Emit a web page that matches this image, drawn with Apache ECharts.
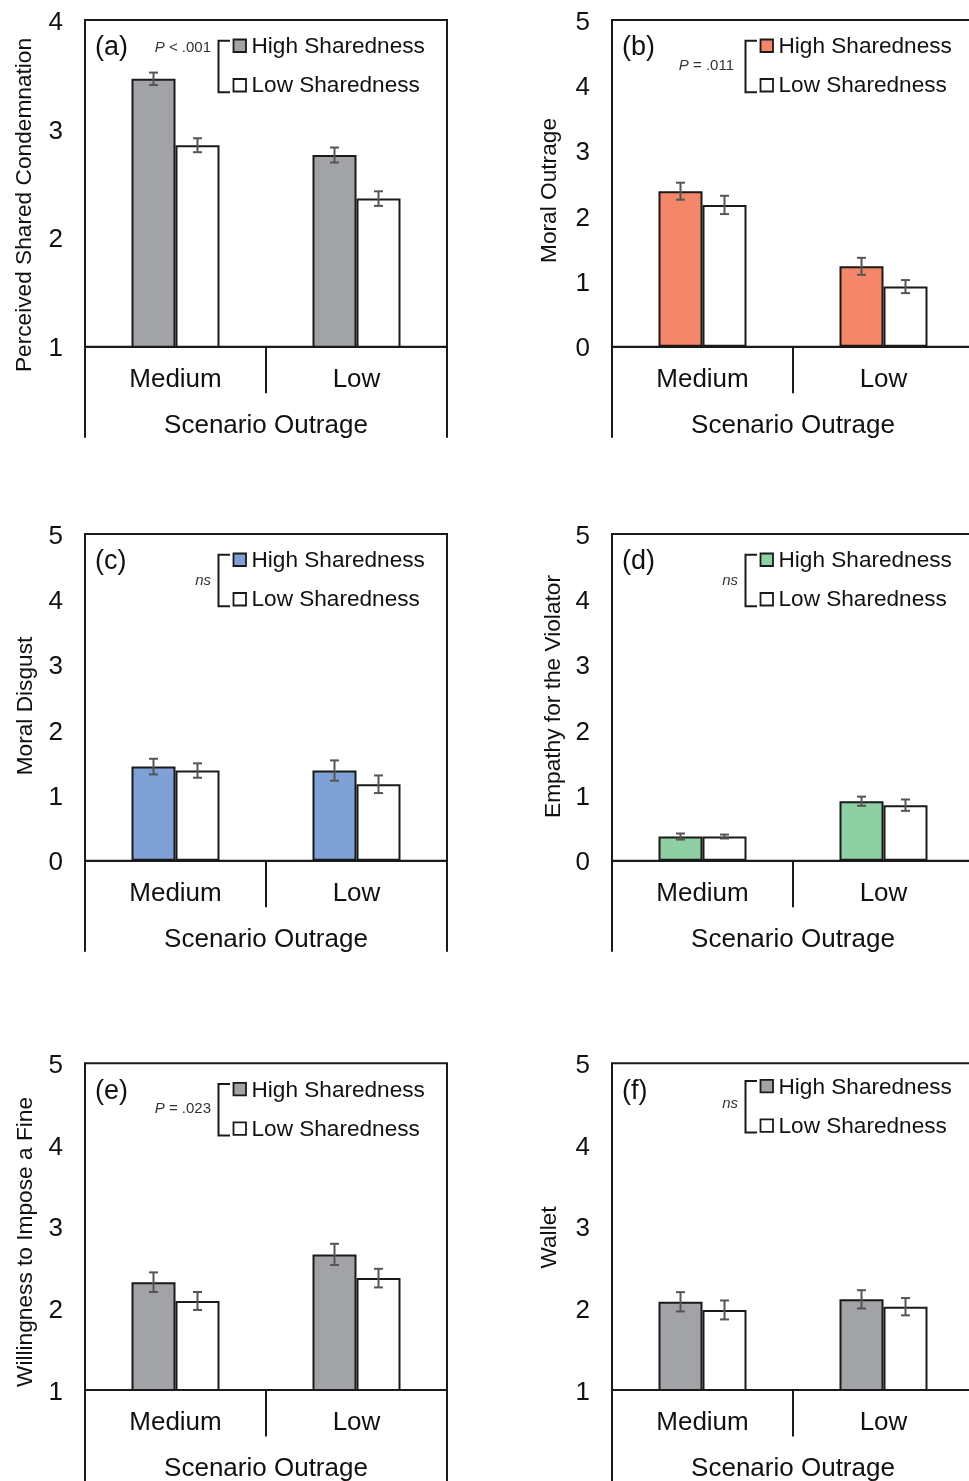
<!DOCTYPE html>
<html><head><meta charset="utf-8">
<script src="https://cdn.jsdelivr.net/npm/echarts@6/dist/echarts.min.js"></script>
<style>html,body{margin:0;padding:0;background:#fff;overflow:hidden}#c{width:969px;height:1481px}</style>
</head><body><div id="c"></div>
<script>
// ---------- DATA ----------
const categories = ['Medium', 'Low'];
const groupNames = ['High Sharedness', 'Low Sharedness'];
const outerAxisTitle = ['Scenario Outrage'];
const panelLabels = ['(a)', '(b)', '(c)', '(d)', '(e)', '(f)'];
const yAxisNames = ['Perceived Shared Condemnation', 'Moral Outrage', 'Moral Disgust',
  'Empathy for the Violator', 'Willingness to Impose a Fine', 'Wallet'];
const pTexts = ['P < .001', 'P = .011', 'ns', 'ns', 'P = .023', 'ns'];
const yMins = [1, 0, 0, 0, 1, 1];
const yMaxs = [4, 5, 5, 5, 5, 5];

const condemnationHigh = [3.46, 2.76];
const condemnationLow = [2.85, 2.36];
const condemnationHighErr = [0.057, 0.069];
const condemnationLowErr = [0.064, 0.067];

const outrageHigh = [2.38, 1.23];
const outrageLow = [2.17, 0.92];
const outrageHighErr = [0.13, 0.13];
const outrageLowErr = [0.14, 0.10];

const disgustHigh = [1.44, 1.38];
const disgustLow = [1.38, 1.17];
const disgustHighErr = [0.12, 0.155];
const disgustLowErr = [0.11, 0.135];

const empathyHigh = [0.37, 0.91];
const empathyLow = [0.37, 0.85];
const empathyHighErr = [0.046, 0.07];
const empathyLowErr = [0.03, 0.087];

const fineHigh = [2.32, 2.66];
const fineLow = [2.09, 2.37];
const fineHighErr = [0.12, 0.13];
const fineLowErr = [0.11, 0.114];

const walletHigh = [2.08, 2.11];
const walletLow = [1.98, 2.02];
const walletHighErr = [0.118, 0.112];
const walletLowErr = [0.116, 0.106];

const highSets = [condemnationHigh, outrageHigh, disgustHigh, empathyHigh, fineHigh, walletHigh];
const lowSets = [condemnationLow, outrageLow, disgustLow, empathyLow, fineLow, walletLow];
const highErrSets = [condemnationHighErr, outrageHighErr, disgustHighErr, empathyHighErr, fineHighErr, walletHighErr];
const lowErrSets = [condemnationLowErr, outrageLowErr, disgustLowErr, empathyLowErr, fineLowErr, walletLowErr];

// ---------- LAYOUT / STYLE ----------
const FONT = '"Liberation Sans", Arial, Helvetica, sans-serif';
const INK = '#111';
const highColors = ['#a2a3a6', '#f4866a', '#7fa1d5', '#8ecfa4', '#a2a3a6', '#a2a3a6'];
const layout = [
  { L: 85,  T: 20,    nameX: 25,    nameY: 205,   dy: 0,  pY: 28,   pR: 126 },
  { L: 612, T: 20,    nameX: 549.5, nameY: 190.5, dy: 0,  pY: 45.5, pR: 122 },
  { L: 85,  T: 534,   nameX: 26,    nameY: 706,   dy: 0,  pY: 46.5, pR: 126 },
  { L: 612, T: 534,   nameX: 553.5, nameY: 696.5, dy: 0,  pY: 46.5, pR: 126 },
  { L: 85,  T: 1063.3, nameX: 26,   nameY: 1242,  dy: 0,  pY: 45.5, pR: 126 },
  { L: 612, T: 1063.3, nameX: 549.5, nameY: 1237.5, dy: -3, pY: 43.5, pR: 126 }
];
const PW = 362, PH = 326.7, EXT = 91, SEP = 46.5, BAR_W = 44;

const grids = [], xAxes = [], yAxes = [], series = [], graphics = [];

function errRenderer(sign) {
  return function (params, api) {
    const c = api.value(0), m = api.value(1), e = api.value(2);
    const top = api.coord([c, m + e]);
    const bot = api.coord([c, m - e]);
    const x = top[0] + sign * BAR_W / 2;
    const st = { stroke: '#555', lineWidth: 2 };
    return {
      type: 'group',
      children: [
        { type: 'line', shape: { x1: x, y1: top[1], x2: x, y2: bot[1] }, style: st },
        { type: 'line', shape: { x1: x - 4.5, y1: top[1], x2: x + 4.5, y2: top[1] }, style: st },
        { type: 'line', shape: { x1: x - 4.5, y1: bot[1], x2: x + 4.5, y2: bot[1] }, style: st }
      ]
    };
  };
}

layout.forEach((p, i) => {
  const g = i * 2;
  grids.push({ left: p.L, top: p.T, width: PW, height: PH, show: true,
    borderColor: '#1a1a1a', borderWidth: 2, backgroundColor: 'transparent',
    containLabel: false, outerBoundsMode: 'none' });
  grids.push({ left: p.L, top: p.T, width: PW, height: PH, show: false,
    containLabel: false, outerBoundsMode: 'none' });

  xAxes.push({
    type: 'category', gridIndex: g, data: categories, position: 'bottom',
    axisLine: { show: true, lineStyle: { color: '#1a1a1a', width: 2 } },
    axisTick: { show: true, length: SEP, lineStyle: { color: '#1a1a1a', width: 2 } },
    axisLabel: { fontSize: 26, fontFamily: FONT, color: INK, margin: 20 },
    splitLine: { show: false }
  });
  xAxes.push({
    type: 'category', gridIndex: g + 1, data: outerAxisTitle, position: 'bottom',
    axisLine: { show: false },
    axisTick: { show: true, length: EXT, lineStyle: { color: '#1a1a1a', width: 2 } },
    axisLabel: { fontSize: 26, fontFamily: FONT, color: INK, margin: 66 },
    splitLine: { show: false }
  });
  yAxes.push({
    type: 'value', gridIndex: g, min: yMins[i], max: yMaxs[i], interval: 1,
    axisLine: { show: false }, axisTick: { show: false }, splitLine: { show: false },
    axisLabel: { fontSize: 26, fontFamily: FONT, color: INK, margin: 22,
      formatter: '{v|{value}}',
      rich: { v: { fontSize: 26, fontFamily: FONT, color: INK, padding: [5, 0, 0, 0] } } }
  });
  yAxes.push({ type: 'value', gridIndex: g + 1, min: 0, max: 1, show: false });

  const barStyle = (fill) => ({ color: fill, borderColor: '#1a1a1a', borderWidth: 2 });
  series.push({
    type: 'bar', name: groupNames[0], xAxisIndex: g, yAxisIndex: g,
    data: highSets[i], barWidth: BAR_W, barGap: '0%', itemStyle: barStyle(highColors[i]),
    silent: true, animation: false
  });
  series.push({
    type: 'bar', name: groupNames[1], xAxisIndex: g, yAxisIndex: g,
    data: lowSets[i], barWidth: BAR_W, barGap: '0%', itemStyle: barStyle('#ffffff'),
    silent: true, animation: false
  });
  series.push({
    type: 'custom', xAxisIndex: g, yAxisIndex: g, z: 10, silent: true, animation: false,
    renderItem: errRenderer(-1), encode: { x: 0, y: 1 },
    data: categories.map((c, k) => [k, highSets[i][k], highErrSets[i][k]])
  });
  series.push({
    type: 'custom', xAxisIndex: g, yAxisIndex: g, z: 10, silent: true, animation: false,
    renderItem: errRenderer(1), encode: { x: 0, y: 1 },
    data: categories.map((c, k) => [k, lowSets[i][k], lowErrSets[i][k]])
  });

  // panel label
  graphics.push({ type: 'text', x: p.L + 10, y: p.T + 28, z: 20,
    style: { text: panelLabels[i], fontSize: 27, fontFamily: FONT, fill: INK, align: 'left', verticalAlign: 'middle' } });
  // y axis name
  graphics.push({ type: 'text', x: p.nameX, y: p.nameY, rotation: Math.PI / 2, z: 20,
    style: { text: yAxisNames[i], fontSize: 22.7, fontFamily: FONT, fill: INK, align: 'center', verticalAlign: 'middle' } });
  // legend
  const dy = p.dy;
  graphics.push({ type: 'rect', z: 20, shape: { x: p.L + 148.5, y: p.T + 19.5 + dy, width: 12.5, height: 12.5 },
    style: { fill: highColors[i], stroke: '#1a1a1a', lineWidth: 1.8 } });
  graphics.push({ type: 'rect', z: 20, shape: { x: p.L + 148.5, y: p.T + 59 + dy, width: 12.5, height: 12.5 },
    style: { fill: '#ffffff', stroke: '#1a1a1a', lineWidth: 1.8 } });
  graphics.push({ type: 'text', x: p.L + 166.5, y: p.T + 27 + dy, z: 20,
    style: { text: groupNames[0], fontSize: 22.6, fontFamily: FONT, fill: INK, align: 'left', verticalAlign: 'middle' } });
  graphics.push({ type: 'text', x: p.L + 166.5, y: p.T + 66 + dy, z: 20,
    style: { text: groupNames[1], fontSize: 22.6, fontFamily: FONT, fill: INK, align: 'left', verticalAlign: 'middle' } });
  graphics.push({ type: 'polyline', z: 20,
    shape: { points: [[p.L + 145, p.T + 20.7 + dy], [p.L + 133.5, p.T + 20.7 + dy], [p.L + 133.5, p.T + 72.3 + dy], [p.L + 145, p.T + 72.3 + dy]] },
    style: { stroke: '#1a1a1a', lineWidth: 2, fill: null } });
  // significance
  const t = pTexts[i];
  const rt = t.charAt(0) === 'P' ? '{i|P}{n|' + t.slice(1) + '}' : '{i|' + t + '}';
  graphics.push({ type: 'text', x: p.L + p.pR, y: p.T + p.pY + dy, z: 20,
    style: { text: rt, align: 'right', verticalAlign: 'middle', fontSize: 15, fontFamily: FONT, fill: '#333',
      rich: { i: { fontStyle: 'italic', fontSize: 15, fontFamily: FONT, fill: '#333' },
              n: { fontSize: 15, fontFamily: FONT, fill: '#333' } } } });
});

const chart = echarts.init(document.getElementById('c'), null, { renderer: 'canvas' });
chart.setOption({
  animation: false,
  backgroundColor: '#ffffff',
  textStyle: { fontFamily: FONT },
  grid: grids, xAxis: xAxes, yAxis: yAxes, series: series, graphic: graphics
});
</script></body></html>
